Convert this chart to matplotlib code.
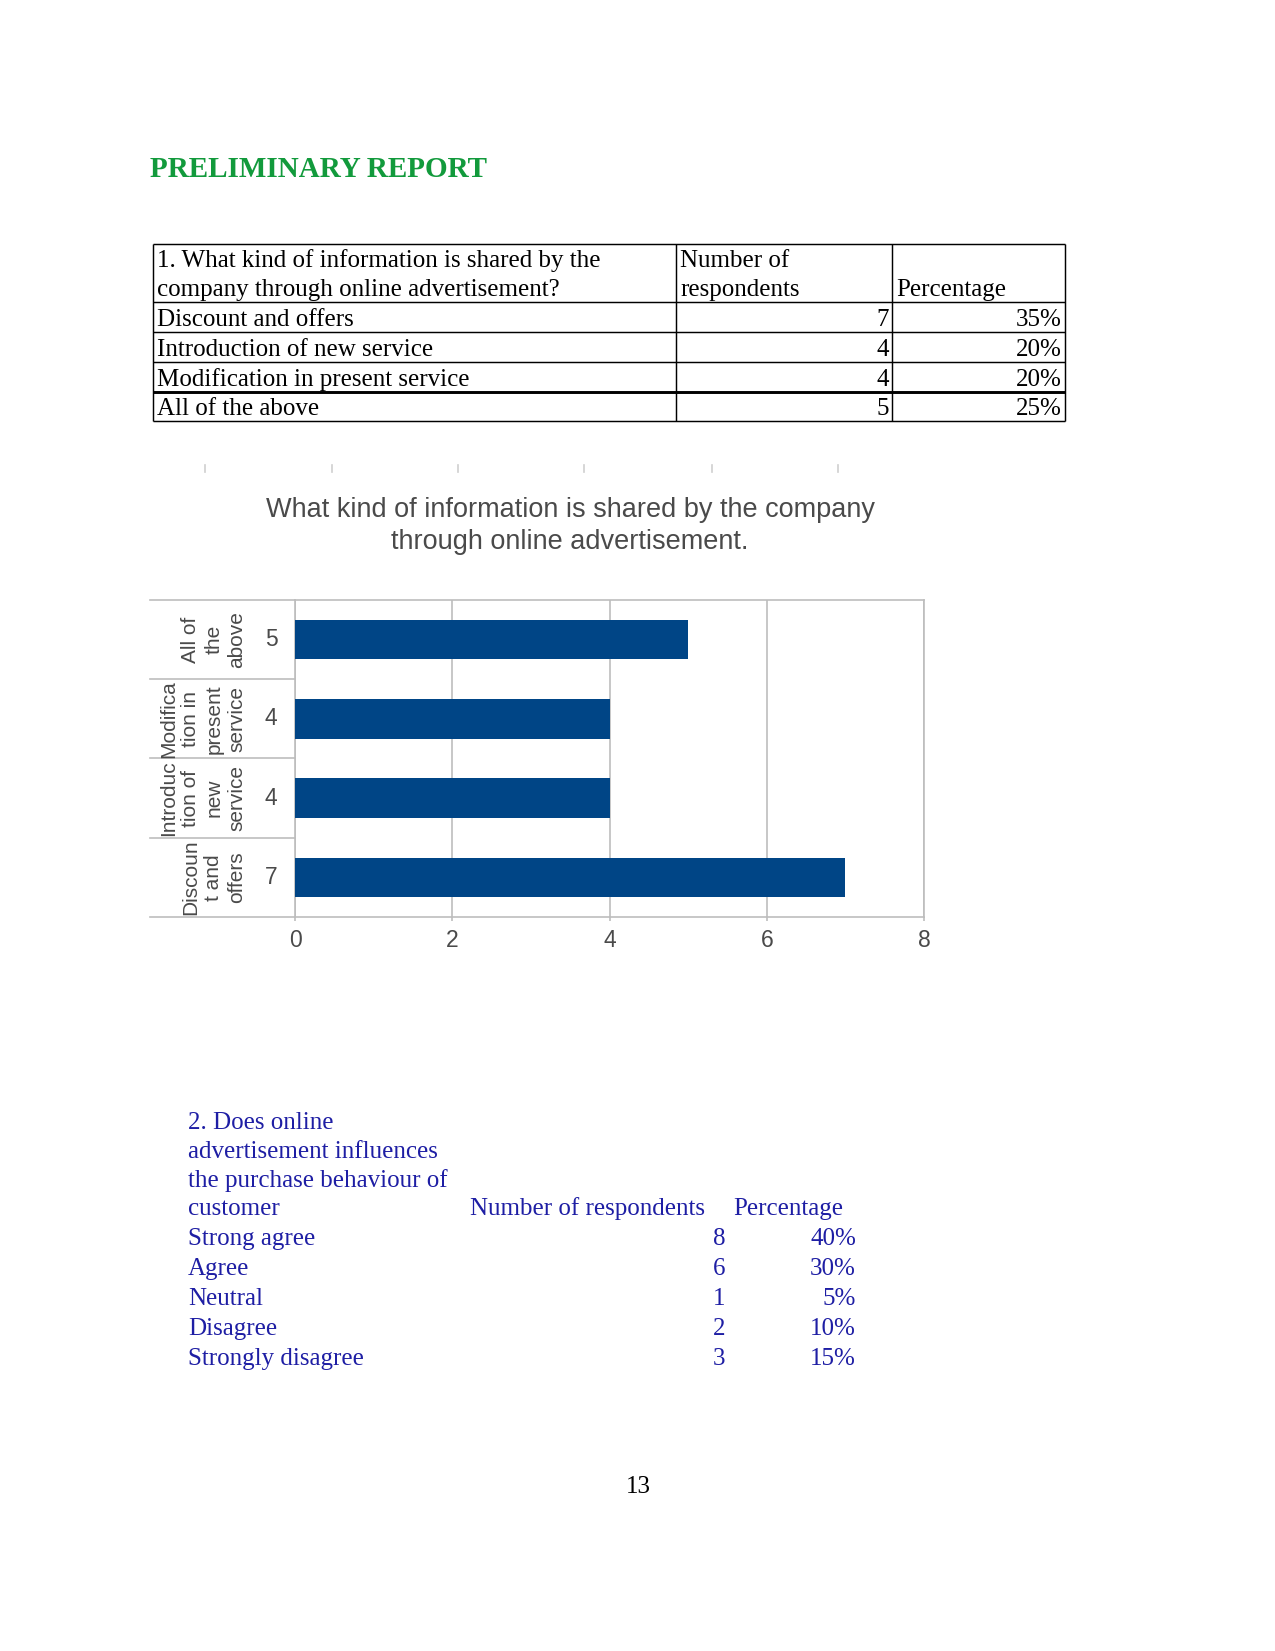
import matplotlib

matplotlib.use("Agg")
import matplotlib.pyplot as plt

PAGE_W, PAGE_H = 1275, 1651
DPI = 150

SERIF = "Liberation Serif"
SANS = "Liberation Sans"
GREEN = "#129a3c"
BLUE = "#1e1ea4"
BAR_BLUE = "#004586"
CHART_GRAY = "#4a4a4a"
GRID_GRAY = "#bdbdbd"

REPORT_TITLE = "PRELIMINARY REPORT"

# question 1 table + chart
Q1_HEADER = ["1. What kind of information is shared by the", "company through online advertisement?"]
Q1_COL_HEADERS = [["Number of", "respondents"], ["", "Percentage"]]
Q1_OPTIONS = ["Discount and offers", "Introduction of new service", "Modification in present service", "All of the above"]
Q1_COUNTS = [7, 4, 4, 5]
Q1_PERCENTS = ["35%", "20%", "20%", "25%"]

CHART_TITLE = "What kind of information is shared by the company\nthrough online advertisement."
CHART_LABELS = ["Discoun\nt and\noffers", "Introduc\ntion of\nnew\nservice", "Modifica\ntion in\npresent\nservice", "All of\nthe\nabove"]
CHART_XTICKS = [0, 2, 4, 6, 8]

# question 2 table
Q2_HEADER = ["2. Does online", "advertisement influences", "the purchase behaviour of", "customer"]
Q2_OPTIONS = ["Strong agree", "Agree", "Neutral", "Disagree", "Strongly disagree"]
Q2_COUNTS = [8, 6, 1, 2, 3]
Q2_PERCENTS = ["40%", "30%", "5%", "10%", "15%"]

PAGE_NUMBER = "13"


def px_axes(fig, left, top, right, bottom):
    return fig.add_axes([left / PAGE_W, 1 - bottom / PAGE_H, (right - left) / PAGE_W, (bottom - top) / PAGE_H])


def draw_q1_table(page):
    cols = [153, 676, 892, 1065]
    rows = [244, 302, 332, 362, 392, 421]
    for x in cols:
        page.plot([x, x], [rows[0], rows[-1]], color="black", lw=0.7, solid_capstyle="butt")
    for i, y in enumerate(rows):
        page.plot([cols[0], cols[-1]], [y, y], color="black", lw=1.4 if i == 4 else 0.7, solid_capstyle="butt")

    style = dict(fontsize=12, family=SERIF, color="black", va="baseline")
    for line, y in zip(Q1_HEADER, [267, 296]):
        page.text(157, y, line, ha="left", **style)
    for (first, second), x in zip(Q1_COL_HEADERS, [680, 896]):
        page.text(x, 267, first, ha="left", **style)
        page.text(x, 296, second, ha="left", **style)
    for i, (label, count, pct) in enumerate(zip(Q1_OPTIONS, Q1_COUNTS, Q1_PERCENTS)):
        y = rows[i + 2] - 6
        page.text(157, y, label, ha="left", **style)
        page.text(cols[2] - 3, y, str(count), ha="right", **style)
        page.text(cols[3] - 3, y, pct, ha="right", **style)


def draw_q1_chart(fig, page):
    # faint ruler ticks above the chart
    for x in [205, 332, 458, 584, 712, 838]:
        page.plot([x, x], [465, 472], color="#cfcfcf", lw=0.8)
    page.text(570, 526, CHART_TITLE, ha="center", va="center", fontsize=13, family=SANS,
              color=CHART_GRAY, linespacing=1.33)

    left, top, right, bottom = 295, 600, 924, 917
    ax = px_axes(fig, left, top, right, bottom)
    ypos = list(range(len(Q1_COUNTS)))
    ax.barh(ypos, Q1_COUNTS, height=0.5, color=BAR_BLUE, zorder=3)
    ax.set_xlim(CHART_XTICKS[0], CHART_XTICKS[-1])
    ax.set_ylim(-0.5, len(Q1_COUNTS) - 0.5)
    ax.set_xticks(CHART_XTICKS)
    ax.set_yticks([])
    ax.grid(axis="x", color=GRID_GRAY, lw=0.8, zorder=0)
    for spine in ax.spines.values():
        spine.set_color(GRID_GRAY)
        spine.set_linewidth(0.8)
    ax.tick_params(axis="x", length=2, color=GRID_GRAY, pad=4, labelsize=11, labelcolor=CHART_GRAY)
    for lbl in ax.get_xticklabels():
        lbl.set_family(SANS)

    # category separators in the label area
    x_edge = (150 - left) / (right - left)
    trans = ax.get_yaxis_transform()
    for y in [-0.5, 0.5, 1.5, 2.5, 3.5]:
        ax.plot([x_edge, 0], [y, y], transform=trans, color=GRID_GRAY, lw=0.8, clip_on=False)

    x_lab = (246 - left) / (right - left)
    x_val = (271 - left) / (right - left)
    for y, label, count in zip(ypos, CHART_LABELS, Q1_COUNTS):
        ax.text(x_lab, y, label, transform=trans, rotation=90, ha="right", va="center",
                multialignment="center", fontsize=10, family=SANS, color=CHART_GRAY, linespacing=1.25)
        ax.text(x_val, y, str(count), transform=trans, ha="center", va="center",
                fontsize=11, family=SANS, color=CHART_GRAY)


def draw_q2_table(page):
    style = dict(fontsize=12, family=SERIF, color=BLUE, va="baseline")
    header_y = [1129, 1158, 1187, 1215]
    for line, y in zip(Q2_HEADER, header_y):
        page.text(188, y, line, ha="left", **style)
    page.text(470, header_y[-1], "Number of respondents", ha="left", **style)
    page.text(733, header_y[-1], "Percentage", ha="left", **style)
    row_y = [1245, 1275, 1305, 1335, 1365]
    for y, label, count, pct in zip(row_y, Q2_OPTIONS, Q2_COUNTS, Q2_PERCENTS):
        page.text(188, y, label, ha="left", **style)
        page.text(725, y, str(count), ha="right", **style)
        page.text(856, y, pct, ha="right", **style)


def main() -> None:
    fig = plt.figure(figsize=(PAGE_W / DPI, PAGE_H / DPI), dpi=DPI)
    fig.patch.set_facecolor("white")
    page = fig.add_axes([0, 0, 1, 1])
    page.set_xlim(0, PAGE_W)
    page.set_ylim(PAGE_H, 0)
    page.axis("off")

    page.text(150, 177, REPORT_TITLE, ha="left", va="baseline", fontsize=14, family=SERIF,
              weight="bold", color=GREEN)
    draw_q1_table(page)
    draw_q1_chart(fig, page)
    draw_q2_table(page)
    page.text(638, 1493, PAGE_NUMBER, ha="center", va="baseline", fontsize=12, family=SERIF, color="black")

    fig.savefig("out.png", dpi=DPI)
    plt.close(fig)


if __name__ == "__main__":
    main()
